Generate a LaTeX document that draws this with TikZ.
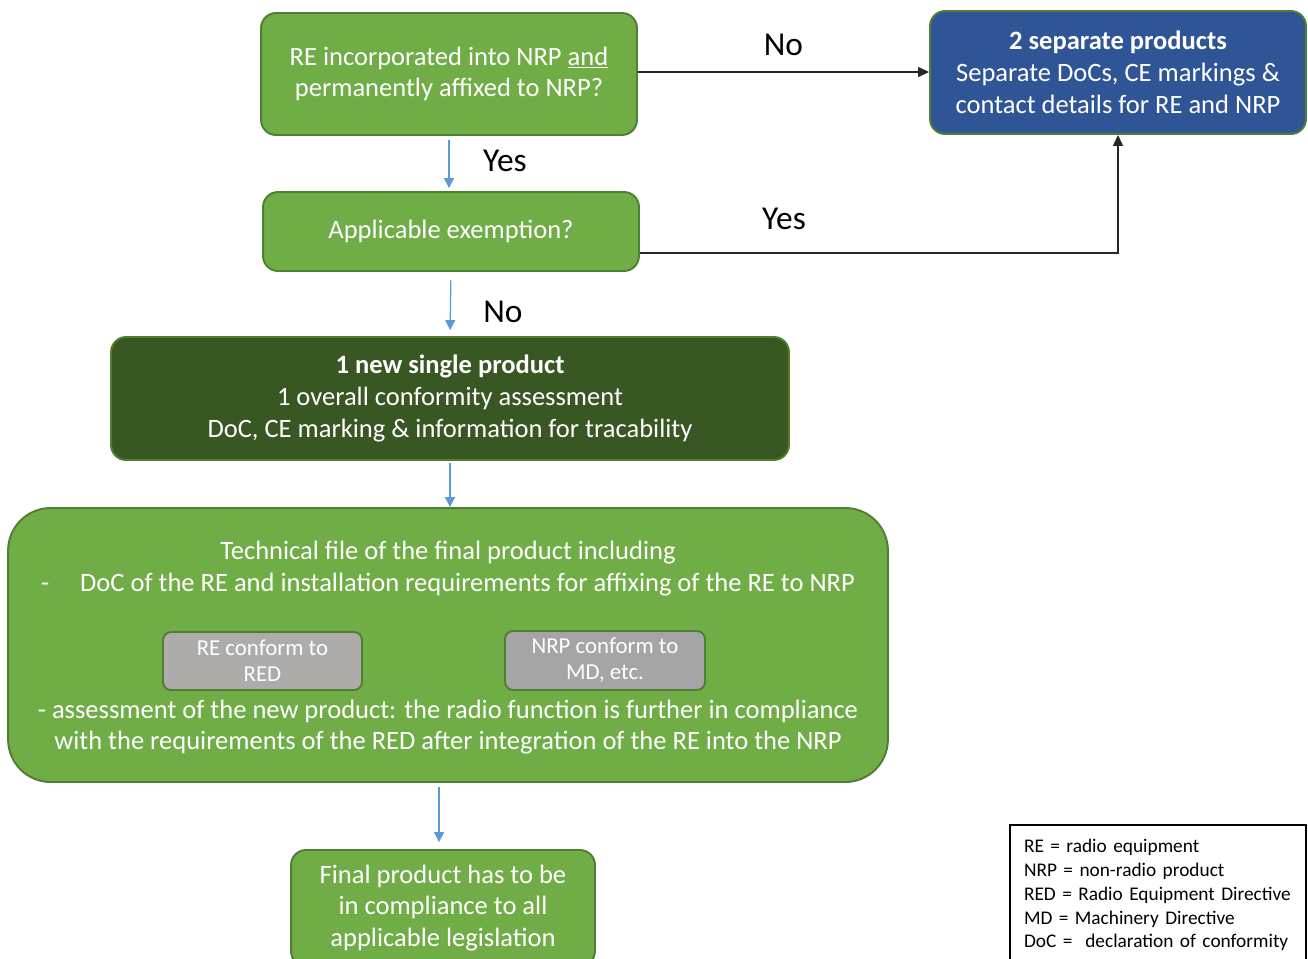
\documentclass[tikz,border=0pt]{standalone}
\usepackage{fontspec}
\setmainfont{Carlito}
\usetikzlibrary{arrows.meta}
\usetikzlibrary{positioning}
\definecolor{boxgreen}{HTML}{70AD47}
\definecolor{boxedge}{HTML}{507E32}
\definecolor{darkgreen}{HTML}{385723}
\definecolor{boxblue}{HTML}{2F5597}
\definecolor{arrowblue}{HTML}{5B9BD5}
\definecolor{greyA}{HTML}{AEABAB}
\definecolor{greyB}{HTML}{A5A5A5}
\tikzset{
  flowbox/.style={draw=boxedge, line width=1.1pt, rounded corners=0.3cm,
    text=white, align=center, inner sep=0pt,
    font=\fontsize{15.1}{18.1}\selectfont},
  greenbox/.style={flowbox, fill=boxgreen},
  darkbox/.style={flowbox, fill=darkgreen},
  bluebox/.style={flowbox, fill=boxblue},
  greybox/.style={flowbox, rounded corners=0.16cm,
    font=\fontsize{13}{14.7}\selectfont},
  bigtext/.style={text=white, align=center, inner sep=0pt,
    font=\fontsize{15.1}{18.1}\selectfont},
  answer/.style={font=\fontsize{19}{21}\selectfont},
  bluearrow/.style={draw=arrowblue, line width=0.7pt,
    -{Triangle[length=0.2cm,width=0.2cm]}},
  blackarrow/.style={draw=black!85, line width=0.7pt,
    -{Triangle[length=0.22cm,width=0.2cm]}},
  legendbox/.style={draw=black, line width=0.8pt, fill=white, align=left,
    inner xsep=0.28cm, inner ysep=0pt, font=\fontsize{11}{13.6}\selectfont}
}
\begin{document}
\begin{tikzpicture}[x=0.02cm,y=-0.02cm]
  \clip (0,0) rectangle (1308,958);
  % Place the decision boxes
  \node[greenbox, minimum width=7.52cm, minimum height=2.44cm] (incorp) at (449,74)
    {RE incorporated into NRP \underline{and}\\permanently affixed to NRP?};
  \node[greenbox, minimum width=7.52cm, minimum height=1.58cm] (exempt) at (451,231.5)
    {Applicable exemption?};
  \node[bluebox, minimum width=7.52cm, minimum height=2.46cm] (separate) at (1118,72.5)
    {\textbf{2 separate products}\\Separate DoCs, CE markings \&\\contact details for RE and NRP};
  \node[darkbox, minimum width=13.56cm, minimum height=2.46cm] (single) at (450,398.5)
    {\textbf{1 new single product}\\1 overall conformity assessment\\DoC, CE marking \& information for tracability};
  % Technical file with the two conformity boxes
  \node[greenbox, rounded corners=0.85cm, minimum width=17.6cm, minimum height=5.48cm] (techfile) at (448,645) {};
  \node[bigtext] (techtop) at (448,568.5)
    {Technical file of the final product including\\-\hspace{0.62cm}DoC of the RE and installation requirements for affixing of the RE to NRP};
  \node[greybox, fill=greyA, minimum width=3.98cm, minimum height=1.16cm] (reconf) at (262.5,661)
    {RE conform to\\RED};
  \node[greybox, fill=greyB, minimum width=4.0cm, minimum height=1.18cm] (nrpconf) at (605,660.5)
    {NRP conform to\\MD, etc.};
  \node[bigtext] (techbottom) at (448,727)
    {- assessment of the new product: the radio function is further in compliance\\with the requirements of the RED after integration of the RE into the NRP};
  \node[greenbox, minimum width=6.08cm, minimum height=2.32cm] (final) at (443,908)
    {Final product has to be\\in compliance to all\\applicable legislation};
  % Legend
  \node[legendbox, minimum width=5.92cm, minimum height=2.8cm, text width=5.36cm] (legend) at (1158,895)
    {RE = radio equipment\\NRP = non-radio product\\RED = Radio Equipment Directive\\MD = Machinery Directive\\DoC =~~declaration of conformity\\[4pt]};
  % Connections
  \draw[blackarrow] (incorp.east |- 0,72) -- (separate.west |- 0,72)
    node[answer, midway, above=0.2cm] (no1) {No};
  \draw[blackarrow] ([yshift=-0.43cm]exempt.east) -| (separate.south);
  \node[answer] (yes2) at (784,219) {Yes};
  \draw[bluearrow, shorten <=0.08cm, shorten >=0.06cm] (incorp.south) -- (incorp.south |- exempt.north);
  \node[answer] (yes1) at (505,161) {Yes};
  \draw[bluearrow, shorten <=0.16cm, shorten >=0.12cm] (exempt.south) -- (single.north);
  \node[answer] (no2) at (503,312) {No};
  \draw[bluearrow, shorten <=0.04cm] (single.south) -- (single.south |- techfile.north);
  \draw[bluearrow, shorten <=0.08cm, shorten >=0.14cm] (techfile.south -| 439,0) -- (final.north -| 439,0);
\end{tikzpicture}
\end{document}
